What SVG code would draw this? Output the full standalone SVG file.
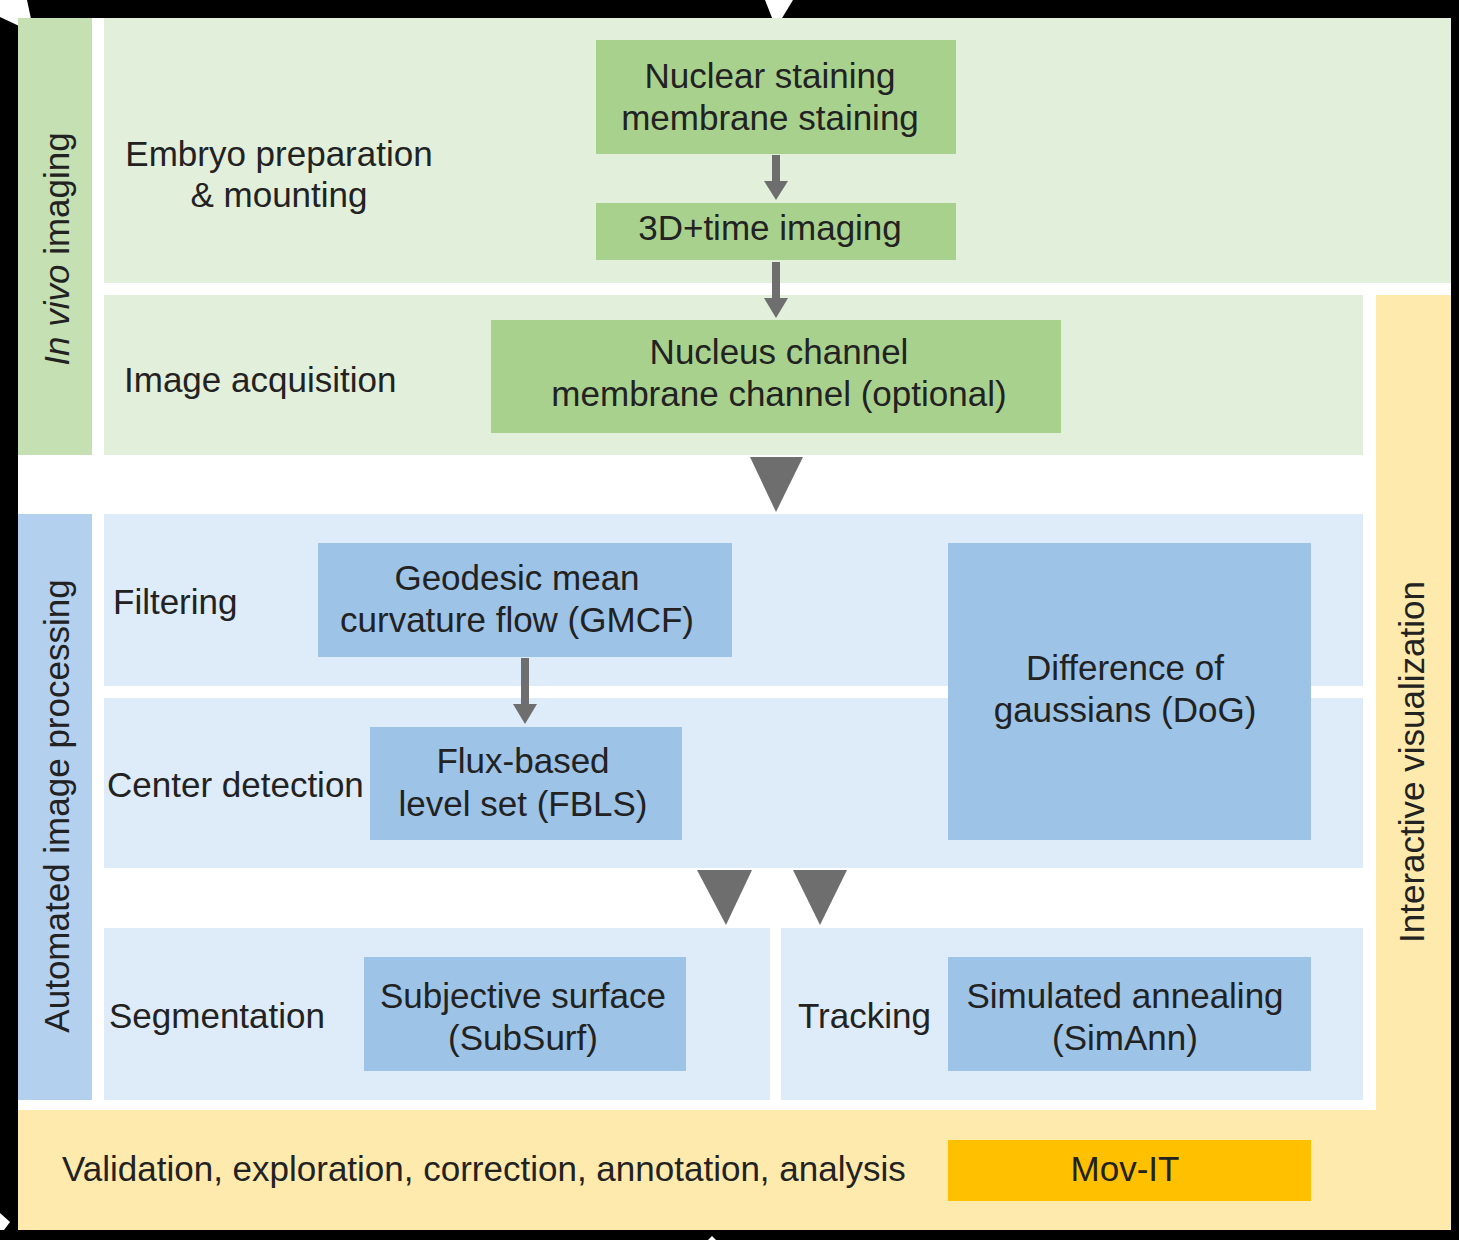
<svg xmlns="http://www.w3.org/2000/svg" width="1459" height="1240" viewBox="0 0 1459 1240">
<style>
text{font-family:"Liberation Sans",Arial,sans-serif;font-size:35px;fill:#222}
.m{text-anchor:middle}
.g1{fill:#c5e0b3}.g2{fill:#e2efda}.gb{fill:#a9d18e}
.b1{fill:#b4d0ef}.b2{fill:#deebf8}.bb{fill:#9dc3e6}
.y{fill:#ffeaad}.o{fill:#ffc000}
.ar{fill:#6e6e6e}
</style>
<rect width="1459" height="1240" fill="#000"/>
<rect x="18" y="18" width="1433" height="1212" fill="#fff"/>
<g id="artifacts" fill="#fff">
<polygon points="0,0 27,0 34,33 0,17"/>
<polygon points="765,0 793,0 776,28"/>
<polygon points="0,1213 10,1222 4,1230 0,1230"/>
<polygon points="708,1240 712,1236 716,1240"/>
</g>
<g id="lanes">
<rect id="lane-invivo" class="g1" x="18" y="18" width="74" height="437"/>
<rect id="lane-prep" class="g2" x="104" y="18" width="1347" height="265"/>
<rect id="lane-acq" class="g2" x="104" y="295" width="1259" height="160"/>
<rect id="lane-auto" class="b1" x="18" y="514" width="74" height="586"/>
<rect id="lane-filter" class="b2" x="104" y="514" width="1259" height="172"/>
<rect id="lane-center" class="b2" x="104" y="698" width="1259" height="170"/>
<rect id="lane-seg" class="b2" x="104" y="928" width="666" height="172"/>
<rect id="lane-track" class="b2" x="781" y="928" width="582" height="172"/>
<path id="lane-vis" class="y" d="M1376,295 H1451 V1230 H18 V1110 H1376 Z"/>
</g>
<g id="labels">
<text transform="translate(69,249) rotate(-90)" class="m"><tspan font-style="italic">In vivo</tspan> imaging</text>
<text transform="translate(69,806) rotate(-90)" class="m">Automated image processing</text>
<text transform="translate(1424,762) rotate(-90)" class="m">Interactive visualization</text>
<text class="m" x="279" y="166">Embryo preparation</text>
<text class="m" x="279" y="207">&amp; mounting</text>
<text x="124" y="392">Image acquisition</text>
<text x="113" y="614">Filtering</text>
<text x="107" y="797">Center detection</text>
<text x="109" y="1028">Segmentation</text>
<text x="798" y="1028">Tracking</text>
<text x="62" y="1181">Validation, exploration, correction, annotation, analysis</text>
</g>
<g id="n-staining"><rect class="gb" x="596" y="40" width="360" height="114"/><text class="m" x="770" y="88">Nuclear staining</text><text class="m" x="770" y="130">membrane staining</text></g>
<g id="n-imaging"><rect class="gb" x="596" y="203" width="360" height="57"/><text class="m" x="770" y="240">3D+time imaging</text></g>
<g id="n-channels"><rect class="gb" x="491" y="320" width="570" height="113"/><text class="m" x="779" y="364">Nucleus channel</text><text class="m" x="779" y="406">membrane channel (optional)</text></g>
<g id="n-gmcf"><rect class="bb" x="318" y="543" width="414" height="114"/><text class="m" x="517" y="590">Geodesic mean</text><text class="m" x="517" y="632">curvature flow (GMCF)</text></g>
<g id="n-fbls"><rect class="bb" x="370" y="727" width="312" height="113"/><text class="m" x="523" y="773">Flux-based</text><text class="m" x="523" y="816">level set (FBLS)</text></g>
<g id="n-dog"><rect class="bb" x="948" y="543" width="363" height="297"/><text class="m" x="1125" y="680">Difference of</text><text class="m" x="1125" y="722">gaussians (DoG)</text></g>
<g id="n-subsurf"><rect class="bb" x="364" y="957" width="322" height="114"/><text class="m" x="523" y="1008">Subjective surface</text><text class="m" x="523" y="1050">(SubSurf)</text></g>
<g id="n-simann"><rect class="bb" x="948" y="957" width="363" height="114"/><text class="m" x="1125" y="1008">Simulated annealing</text><text class="m" x="1125" y="1050">(SimAnn)</text></g>
<g id="n-movit"><rect class="o" x="948" y="1140" width="363" height="61"/><text class="m" x="1125" y="1181">Mov-IT</text></g>
<g id="connectors">
<path class="ar" d="M772,155 H780 V181 H788 L776,200 L764,181 H772 Z"/>
<path class="ar" d="M772,262 H780 V298 H788 L776,318 L764,298 H772 Z"/>
<path class="ar" d="M521,658 H529 V704 H537 L525,724 L513,704 H521 Z"/>
<polygon class="ar" points="750,457 803,457 776,512"/>
<polygon class="ar" points="697,870 752,870 726,925"/>
<polygon class="ar" points="793,870 847,870 820,925"/>
</g>
</svg>
